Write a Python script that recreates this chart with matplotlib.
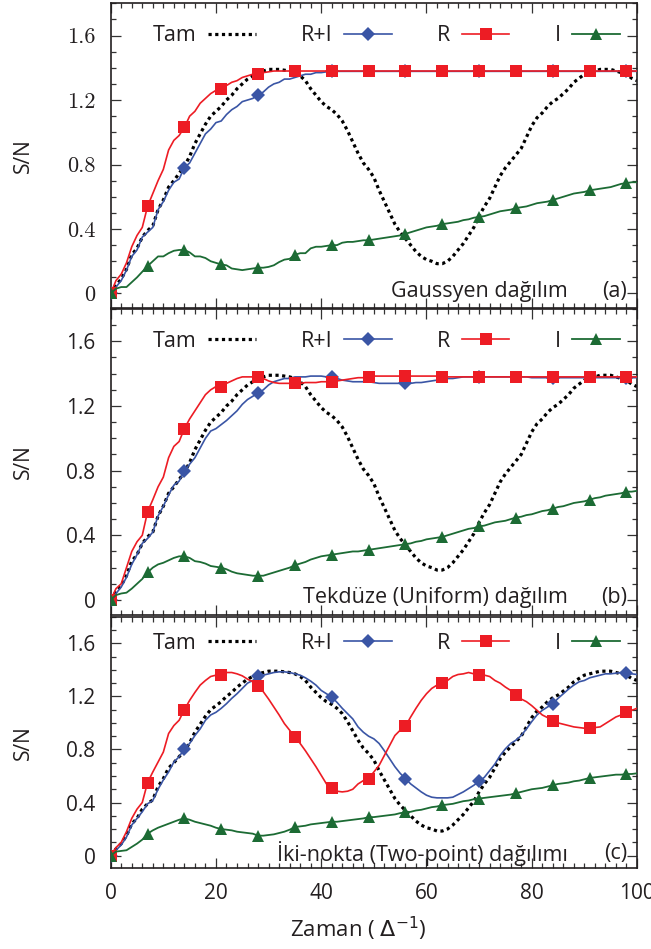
import matplotlib
matplotlib.use("Agg")
import matplotlib.pyplot as plt
from matplotlib.ticker import MultipleLocator

# ---------------- data ----------------
zaman = list(range(0, 101))

tam = [0.00, 0.05, 0.09, 0.15, 0.24, 0.28, 0.35, 0.39, 0.42, 0.52,
       0.58, 0.66, 0.70, 0.745, 0.79, 0.85, 0.93, 0.99, 1.05, 1.10,
       1.13, 1.16, 1.20, 1.23, 1.27, 1.30, 1.33, 1.35, 1.37, 1.38,
       1.39, 1.39, 1.39, 1.385, 1.38, 1.37, 1.35, 1.32, 1.27, 1.23,
       1.19, 1.16, 1.14, 1.11, 1.07, 1.01, 0.94, 0.87, 0.81, 0.77,
       0.72, 0.64, 0.57, 0.50, 0.43, 0.38, 0.34, 0.30, 0.26, 0.23,
       0.21, 0.20, 0.185, 0.185, 0.20, 0.23, 0.27, 0.31, 0.36, 0.41,
       0.48, 0.54, 0.59, 0.66, 0.73, 0.78, 0.82, 0.86, 0.90, 0.97,
       1.04, 1.09, 1.12, 1.16, 1.19, 1.21, 1.24, 1.27, 1.31, 1.335,
       1.36, 1.37, 1.38, 1.39, 1.39, 1.39, 1.38, 1.37, 1.36, 1.335,
       1.32]

# Panel (a) Gaussyen
ri_a = [0.00, 0.04, 0.08, 0.145, 0.23, 0.27, 0.35, 0.38, 0.41, 0.52,
        0.57, 0.64, 0.69, 0.71, 0.78, 0.81, 0.87, 0.93, 0.99, 1.02,
        1.06, 1.07, 1.11, 1.14, 1.16, 1.19, 1.20, 1.21, 1.23, 1.25,
        1.28, 1.30, 1.31, 1.33, 1.33, 1.34, 1.35, 1.36, 1.36, 1.37,
        1.37, 1.375, 1.378, 1.378, 1.378, 1.378, 1.378, 1.378, 1.378, 1.378,
        1.378, 1.378, 1.378, 1.378, 1.378, 1.378, 1.378, 1.378, 1.378, 1.378,
        1.378, 1.378, 1.378, 1.378, 1.378, 1.378, 1.378, 1.378, 1.378, 1.378,
        1.378, 1.378, 1.378, 1.378, 1.378, 1.378, 1.378, 1.378, 1.378, 1.378,
        1.378, 1.378, 1.378, 1.378, 1.378, 1.378, 1.378, 1.378, 1.378, 1.378,
        1.378, 1.378, 1.378, 1.378, 1.378, 1.378, 1.378, 1.378, 1.378, 1.378,
        1.378]
r_a = [0.00, 0.08, 0.12, 0.19, 0.29, 0.36, 0.41, 0.54, 0.62, 0.70,
       0.77, 0.89, 0.95, 0.98, 1.03, 1.10, 1.13, 1.18, 1.21, 1.24,
       1.26, 1.27, 1.29, 1.31, 1.32, 1.34, 1.35, 1.36, 1.36, 1.37,
       1.375, 1.38, 1.38, 1.38, 1.38, 1.38, 1.38, 1.38, 1.38, 1.38,
       1.38, 1.38, 1.38, 1.38, 1.38, 1.38, 1.38, 1.38, 1.38, 1.38,
       1.38, 1.38, 1.38, 1.38, 1.38, 1.38, 1.38, 1.38, 1.38, 1.38,
       1.38, 1.38, 1.38, 1.38, 1.38, 1.38, 1.38, 1.38, 1.38, 1.38,
       1.38, 1.38, 1.38, 1.38, 1.38, 1.38, 1.38, 1.38, 1.38, 1.38,
       1.38, 1.38, 1.38, 1.38, 1.38, 1.38, 1.38, 1.38, 1.38, 1.38,
       1.38, 1.38, 1.38, 1.38, 1.38, 1.38, 1.38, 1.38, 1.38, 1.38,
       1.38]
i_a = [0.00, 0.03, 0.04, 0.04, 0.07, 0.10, 0.135, 0.17, 0.20, 0.23,
       0.23, 0.25, 0.265, 0.27, 0.27, 0.255, 0.23, 0.23, 0.22, 0.20,
       0.19, 0.18, 0.175, 0.155, 0.15, 0.145, 0.15, 0.155, 0.16, 0.16,
       0.165, 0.175, 0.195, 0.21, 0.215, 0.24, 0.25, 0.25, 0.28, 0.29,
       0.29, 0.295, 0.30, 0.30, 0.315, 0.32, 0.32, 0.325, 0.33, 0.33,
       0.335, 0.34, 0.345, 0.35, 0.355, 0.36, 0.37, 0.38, 0.39, 0.40,
       0.41, 0.415, 0.42, 0.43, 0.435, 0.44, 0.445, 0.455, 0.46, 0.47,
       0.475, 0.48, 0.49, 0.50, 0.51, 0.515, 0.52, 0.53, 0.535, 0.54,
       0.55, 0.56, 0.565, 0.57, 0.58, 0.59, 0.60, 0.61, 0.62, 0.625,
       0.63, 0.64, 0.645, 0.65, 0.655, 0.66, 0.67, 0.68, 0.685, 0.69,
       0.69]

# Panel (b) Tekduze (Uniform)
ri_b = [0.00, 0.04, 0.08, 0.14, 0.22, 0.28, 0.35, 0.38, 0.42, 0.52,
        0.58, 0.65, 0.71, 0.735, 0.80, 0.84, 0.88, 0.94, 1.00, 1.045,
        1.06, 1.085, 1.11, 1.14, 1.17, 1.21, 1.24, 1.26, 1.28, 1.30,
        1.33, 1.35, 1.36, 1.37, 1.37, 1.38, 1.38, 1.38, 1.385, 1.385,
        1.385, 1.38, 1.38, 1.37, 1.36, 1.355, 1.35, 1.35, 1.35, 1.35,
        1.345, 1.34, 1.34, 1.34, 1.34, 1.34, 1.34, 1.34, 1.345, 1.345,
        1.35, 1.355, 1.36, 1.36, 1.37, 1.37, 1.375, 1.38, 1.38, 1.38,
        1.38, 1.38, 1.38, 1.38, 1.38, 1.38, 1.38, 1.38, 1.38, 1.38,
        1.375, 1.375, 1.375, 1.375, 1.375, 1.375, 1.375, 1.375, 1.375, 1.375,
        1.375, 1.375, 1.375, 1.375, 1.375, 1.375, 1.375, 1.375, 1.375, 1.375,
        1.375]
r_b = [0.00, 0.07, 0.10, 0.20, 0.30, 0.36, 0.40, 0.545, 0.62, 0.70,
       0.76, 0.88, 0.95, 0.98, 1.06, 1.12, 1.17, 1.22, 1.27, 1.30,
       1.32, 1.32, 1.34, 1.355, 1.37, 1.38, 1.38, 1.38, 1.38, 1.37,
       1.355, 1.345, 1.34, 1.34, 1.34, 1.34, 1.34, 1.345, 1.345, 1.345,
       1.35, 1.35, 1.35, 1.355, 1.36, 1.365, 1.37, 1.375, 1.375, 1.38,
       1.385, 1.385, 1.385, 1.385, 1.385, 1.385, 1.385, 1.385, 1.385, 1.385,
       1.385, 1.385, 1.385, 1.38, 1.38, 1.38, 1.38, 1.38, 1.38, 1.38,
       1.38, 1.38, 1.38, 1.38, 1.38, 1.38, 1.38, 1.38, 1.38, 1.38,
       1.38, 1.38, 1.38, 1.38, 1.38, 1.38, 1.38, 1.38, 1.38, 1.38,
       1.38, 1.38, 1.38, 1.38, 1.38, 1.38, 1.38, 1.38, 1.38, 1.38,
       1.38]
i_b = [0.00, 0.03, 0.04, 0.045, 0.07, 0.10, 0.13, 0.17, 0.20, 0.22,
       0.23, 0.245, 0.26, 0.27, 0.27, 0.26, 0.24, 0.235, 0.225, 0.21,
       0.205, 0.20, 0.19, 0.175, 0.165, 0.16, 0.155, 0.15, 0.15, 0.15,
       0.16, 0.17, 0.18, 0.19, 0.20, 0.215, 0.225, 0.235, 0.25, 0.26,
       0.27, 0.275, 0.28, 0.285, 0.29, 0.295, 0.30, 0.30, 0.305, 0.31,
       0.315, 0.32, 0.325, 0.33, 0.335, 0.34, 0.345, 0.35, 0.36, 0.365,
       0.375, 0.38, 0.385, 0.39, 0.40, 0.41, 0.42, 0.43, 0.44, 0.445,
       0.455, 0.46, 0.47, 0.48, 0.485, 0.49, 0.50, 0.51, 0.515, 0.525,
       0.53, 0.54, 0.55, 0.555, 0.565, 0.575, 0.58, 0.59, 0.60, 0.605,
       0.61, 0.62, 0.63, 0.635, 0.645, 0.65, 0.655, 0.66, 0.67, 0.67,
       0.675]

# Panel (c) Iki-nokta (Two-point)
ri_c = [0.00, 0.04, 0.08, 0.14, 0.23, 0.28, 0.33, 0.39, 0.415, 0.50,
        0.57, 0.63, 0.705, 0.745, 0.805, 0.845, 0.905, 0.955, 1.02, 1.06,
        1.08, 1.11, 1.145, 1.185, 1.22, 1.26, 1.30, 1.32, 1.35, 1.36,
        1.37, 1.38, 1.385, 1.385, 1.38, 1.37, 1.36, 1.34, 1.315, 1.285,
        1.245, 1.22, 1.195, 1.155, 1.11, 1.07, 1.03, 0.97, 0.93, 0.90,
        0.88, 0.845, 0.79, 0.73, 0.67, 0.62, 0.58, 0.54, 0.51, 0.48,
        0.455, 0.44, 0.435, 0.435, 0.435, 0.44, 0.46, 0.48, 0.505, 0.53,
        0.56, 0.59, 0.64, 0.69, 0.755, 0.805, 0.845, 0.87, 0.905, 0.955,
        1.01, 1.06, 1.095, 1.12, 1.145, 1.185, 1.22, 1.255, 1.285, 1.31,
        1.32, 1.34, 1.35, 1.36, 1.37, 1.37, 1.375, 1.38, 1.38, 1.37,
        1.365]
r_c = [0.00, 0.06, 0.10, 0.18, 0.28, 0.35, 0.40, 0.55, 0.63, 0.705,
       0.78, 0.92, 0.98, 1.02, 1.10, 1.17, 1.23, 1.285, 1.32, 1.35,
       1.36, 1.365, 1.38, 1.38, 1.37, 1.355, 1.33, 1.31, 1.28, 1.235,
       1.18, 1.12, 1.06, 0.995, 0.945, 0.895, 0.845, 0.79, 0.73, 0.67,
       0.605, 0.54, 0.51, 0.485, 0.48, 0.485, 0.50, 0.54, 0.565, 0.58,
       0.63, 0.68, 0.755, 0.83, 0.905, 0.945, 0.975, 1.045, 1.11, 1.17,
       1.22, 1.26, 1.285, 1.30, 1.32, 1.35, 1.365, 1.37, 1.38, 1.37,
       1.365, 1.36, 1.35, 1.32, 1.30, 1.27, 1.245, 1.21, 1.18, 1.16,
       1.13, 1.095, 1.06, 1.04, 1.015, 1.00, 0.99, 0.98, 0.97, 0.965,
       0.96, 0.96, 0.965, 0.97, 0.995, 1.02, 1.045, 1.06, 1.08, 1.095,
       1.11]
i_c = [0.00, 0.03, 0.035, 0.04, 0.065, 0.09, 0.12, 0.165, 0.19, 0.21,
       0.225, 0.24, 0.255, 0.27, 0.28, 0.27, 0.255, 0.245, 0.235, 0.225,
       0.21, 0.20, 0.195, 0.19, 0.18, 0.175, 0.17, 0.165, 0.15, 0.15,
       0.155, 0.16, 0.17, 0.18, 0.195, 0.215, 0.22, 0.225, 0.235, 0.24,
       0.245, 0.25, 0.255, 0.255, 0.26, 0.265, 0.27, 0.275, 0.28, 0.29,
       0.29, 0.295, 0.30, 0.305, 0.31, 0.32, 0.325, 0.33, 0.34, 0.345,
       0.355, 0.365, 0.37, 0.38, 0.385, 0.39, 0.40, 0.41, 0.415, 0.425,
       0.43, 0.435, 0.44, 0.445, 0.45, 0.455, 0.46, 0.47, 0.48, 0.49,
       0.50, 0.505, 0.51, 0.52, 0.53, 0.54, 0.545, 0.55, 0.56, 0.565,
       0.575, 0.585, 0.59, 0.595, 0.60, 0.605, 0.61, 0.61, 0.615, 0.615,
       0.62]

series_labels = ["Tam", "R+I", "R", "I"]
panel_texts = ["Gaussyen dağılım", "Tekdüze (Uniform) dağılım",
               "İki-nokta (Two-point) dağılımı"]
panel_tags = ["(a)", "(b)", "(c)"]
yticks = [0, 0.4, 0.8, 1.2, 1.6]
ytick_labels = ["0", "0.4", "0.8", "1.2", "1.6"]
xticks = [0, 20, 40, 60, 80, 100]
xtick_labels = ["0", "20", "40", "60", "80", "100"]

panels = [(ri_a, r_a, i_a), (ri_b, r_b, i_b), (ri_c, r_c, i_c)]

# ---------------- style ----------------
SANS = ["Open Sans", "DejaVu Sans"]
TXT = "#231F20"
plt.rcParams["font.family"] = SANS
plt.rcParams["mathtext.fontset"] = "dejavusans"

C_RED = "#ED1C24"
C_BLUE = "#3A55A5"
C_GREEN = "#1C6B34"

W, H = 651, 949
fig = plt.figure(figsize=(W / 100, H / 100), dpi=100)

left_px, right_px = 110.7, 637.0
boxes_px = [(3.3, 308.0), (309.0, 614.5), (616.8, 867.5)]

axes = []
for k, (top, bot) in enumerate(boxes_px):
    ax = fig.add_axes([left_px / W, 1 - bot / H, (right_px - left_px) / W, (bot - top) / H])
    axes.append(ax)

for k, ax in enumerate(axes):
    ri, r, i = panels[k]
    ax.plot(zaman, tam, color="black", lw=2.3, linestyle=(0, (1.0, 1.1)),
            label=series_labels[0], zorder=2)
    ax.plot(zaman, ri, color=C_BLUE, lw=1.2, marker="D", markersize=7.5,
            markevery=14, markeredgewidth=0, label=series_labels[1], zorder=3)
    ax.plot(zaman, r, color=C_RED, lw=1.2, marker="s", markersize=8,
            markevery=7, markeredgewidth=0, label=series_labels[2], zorder=4)
    ax.plot(zaman, i, color=C_GREEN, lw=1.3, marker="^", markersize=9,
            markevery=7, markeredgewidth=0, label=series_labels[3], zorder=5)

    ax.set_xlim(0, 100)
    ax.set_ylim(-0.09, 1.80)
    ax.set_xticks(xticks)
    ax.set_yticks(yticks)
    ax.xaxis.set_minor_locator(MultipleLocator(2))
    ax.yaxis.set_minor_locator(MultipleLocator(0.1))
    ax.tick_params(which="both", direction="in", top=True, right=True,
                   color="#333333", width=0.9)
    ax.tick_params(which="major", length=7.5, pad=11)
    ax.tick_params(which="minor", length=3.8)
    for sp in ax.spines.values():
        sp.set_linewidth(1.2)
        sp.set_color("#231F20")

    if k == 0:
        ax.set_yticklabels(ytick_labels, fontsize=16, color=TXT)
        ax.tick_params(axis="y", which="major", labelfontfamily="cmr10")
    else:
        ax.set_yticklabels(ytick_labels, fontsize=15, color=TXT)
    if k < 2:
        ax.set_xticklabels([])
    else:
        ax.set_xticklabels(xtick_labels, fontsize=15, color=TXT)
        ax.set_xlabel("Zaman ( $\\Delta^{-1}$)", fontsize=16, color=TXT)
        ax.xaxis.set_label_coords(0.47, -0.19)

    ax.set_ylabel("S/N", fontsize=15, color=TXT)
    ax.yaxis.set_label_coords(-0.145, 0.5)

    leg = ax.legend(loc="center left", bbox_to_anchor=(0.08, (1.6 + 0.09) / 1.89),
                    ncol=4, frameon=False, markerfirst=False, fontsize=15.5,
                    handlelength=2.2, handletextpad=0.55, columnspacing=2.1,
                    borderaxespad=0, borderpad=0, numpoints=1)
    for t in leg.get_texts():
        t.set_color(TXT)

    ax.text(0.981, 0.015, panel_tags[k], transform=ax.get_yaxis_transform(),
            ha="right", va="center", fontsize=15.5, color=TXT)
    ax.text(0.869, 0.015, panel_texts[k], transform=ax.get_yaxis_transform(),
            ha="right", va="center", fontsize=15.5, color=TXT)

fig.savefig("out.png", dpi=100)
